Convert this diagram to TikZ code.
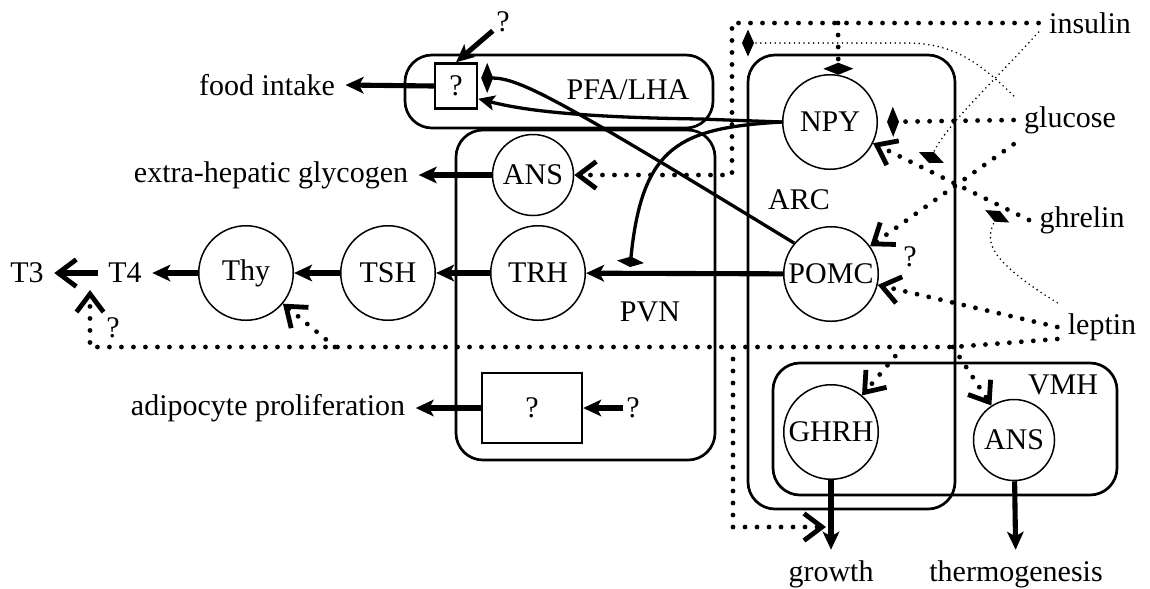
\documentclass[tikz,border=0pt]{standalone}
\usepackage{fontspec}
\setmainfont{Liberation Serif}
\usetikzlibrary{arrows.meta}

\tikzset{
  cell/.style={circle, draw, line width=0.5pt, inner sep=0.5pt, minimum size=31.5pt},
  smallcell/.style={cell, minimum size=27pt},
  region/.style={draw, line width=0.9pt, rounded corners=9pt},
  qbox/.style={draw, line width=0.8pt, inner sep=0pt},
  qmark/.style={inner sep=1pt},
  flow/.style={line width=1.7pt, -{Stealth[length=6pt, width=5.5pt, inset=1.5pt]}},
  link/.style={line width=1.1pt},
  sig/.style={line width=1.6pt, line cap=round, dash pattern=on 0pt off 4pt},
  mod/.style={line width=0.6pt, line cap=round, dash pattern=on 0pt off 1.6pt},
  excite/.style={-{Straight Barb[length=6pt, width=9pt, line width=1.6pt]}},
  inhib/.style={-{Diamond[length=4pt, width=10pt]}},
}

\begin{document}
\begin{tikzpicture}[x=0.3333pt, y=-0.3333pt]
    \useasboundingbox (0,0) rectangle (1150,588);

    % 脑区
    \draw[region] (405,55) rectangle (713,128);
    \draw[region] (456,130) rectangle (715,460);
    \draw[region] (748,55) rectangle (955,509);
    \draw[region] (773,363) rectangle (1117,495);
    \node (pfa) at (628,90) {PFA/LHA};
    \node (pvn) at (650,312) {PVN};
    \node (arc) at (799,200) {ARC};
    \node (vmh) at (1063,385) {VMH};

    % 神经元
    \node[cell] (npy) at (830,122) {NPY};
    \node[cell] (pomc) at (831,274) {POMC};
    \node[cell] (ghrh) at (831,432) {GHRH};
    \node[smallcell] (ansv) at (1014,440) {ANS};
    \node[smallcell] (ansp) at (533,175) {ANS};
    \node[cell] (trh) at (538,273) {TRH};
    \node[cell] (tsh) at (388,273) {TSH};
    \node[cell] (thy) at (246,273) {Thy};
    \node[qbox, minimum width=14pt, minimum height=15pt] (qfood) at (456,86) {?};
    \node[qbox, minimum width=33.3pt, minimum height=23.3pt] (qpvn) at (532,408) {?};

    % 输入信号
    \node (insulin) at (1090,23) {insulin};
    \node (glucose) at (1070,120) {glucose};
    \node (ghrelin) at (1082,220) {ghrelin};
    \node (leptin) at (1102,327) {leptin};

    % 输出
    \node (food) at (267,85) {food intake};
    \node (glyco) at (271,175) {extra-hepatic glycogen};
    \node (adipo) at (268,408) {adipocyte proliferation};
    \node (t4) at (125,273) {T4};
    \node (t3) at (27,273) {T3};
    \node (growth) at (831,574) {growth};
    \node (thermo) at (1016,574) {thermogenesis};
    \node[qmark] (qtop) at (503,22) {?};
    \node[qmark] (qin) at (633,408) {?};
    \node[qmark] (qpomc) at (910,257) {?};
    \node[qmark] (qt3) at (113,328) {?};

    % 实线通路
    \draw[flow] (qfood.west) -- (food.east);
    \draw[flow] (qtop) -- (qfood.north);
    \draw[flow] (ansp) -- (glyco);
    \draw[flow] (pomc) -- (trh);
    \draw[flow] (trh) -- (tsh);
    \draw[flow] (tsh) -- (thy);
    \draw[flow] (thy) -- (t4);
    \draw[line width=1.7pt, excite] (t4) -- (t3);
    \draw[flow] (qin) -- (qpvn);
    \draw[flow] (qpvn) -- (adipo);
    \draw[flow] (ghrh) -- (growth);
    \draw[flow] (ansv) -- (thermo);

    % NPY 与 POMC 的投射
    \draw[link, -{Stealth[length=5.5pt, width=5pt, inset=1.2pt]}] (npy.west) -- (700,119) .. controls (560,117) and (515,108) .. (qfood.-30);
    \draw[link, inhib, shorten >=1pt] (pomc.140) .. controls (560,100) and (520,78) .. (qfood.20);
    \coordinate (trhin) at (630,267);
    \draw[link, -{Diamond[length=3.5pt, width=9pt]}] (npy.west) .. controls (680,128) and (642,145) .. (trhin);

    % 激素信号 (粗点线)
    \coordinate (insc) at (732,23);
    \coordinate (insn) at (838,23);
    \draw[sig, excite] (insulin.west) -- (insc) |- (ansp.east);
    \draw[sig, inhib] (insn) -- (npy.80);
    \draw[sig, inhib, shorten >=3pt] (glucose.west) -- (npy.east);
    \draw[sig, excite] (glucose.south west) -- (pomc);
    \draw[sig, excite] (ghrelin.west) -- (npy);
    \draw[sig, excite] (leptin.west) -- (pomc);

    % leptin 的长支路
    \coordinate (lvmh) at (953,347);
    \coordinate (lghrh) at (903,347);
    \coordinate (lgrow) at (733,347);
    \coordinate (lthy) at (335,347);
    \coordinate (lcorner) at (90,347);
    \coordinate (t3in) at (90,290);
    \coordinate (growin) at (826,527);
    \draw[sig, excite] (leptin.195) -- (lvmh) -- (lcorner) -- (t3in);
    \draw[sig, excite] (lvmh) -- (ansv);
    \draw[sig, excite] (lghrh) -- (ghrh);
    \draw[sig, excite] (lgrow) |- (growin);
    \draw[sig, excite] (lthy) -- (thy);

    % 调制作用 (细点线)
    \coordinate (glmod) at (742,43);
    \coordinate (ghmod1) at (929,163);
    \coordinate (ghmod2) at (1000,211);
    \draw[mod, -{Diamond[length=4pt, width=9pt]}] (glucose.north west) .. controls (975,58) and (950,43) .. (905,43) -- (glmod);
    \draw[mod, -{Diamond[length=4pt, width=9pt]}] (insulin.190) .. controls (1000,75) and (945,126) .. (ghmod1);
    \draw[mod, -{Diamond[length=4pt, width=9pt]}] (leptin.north west) .. controls (985,258) and (985,240) .. (ghmod2);
\end{tikzpicture}
\end{document}
